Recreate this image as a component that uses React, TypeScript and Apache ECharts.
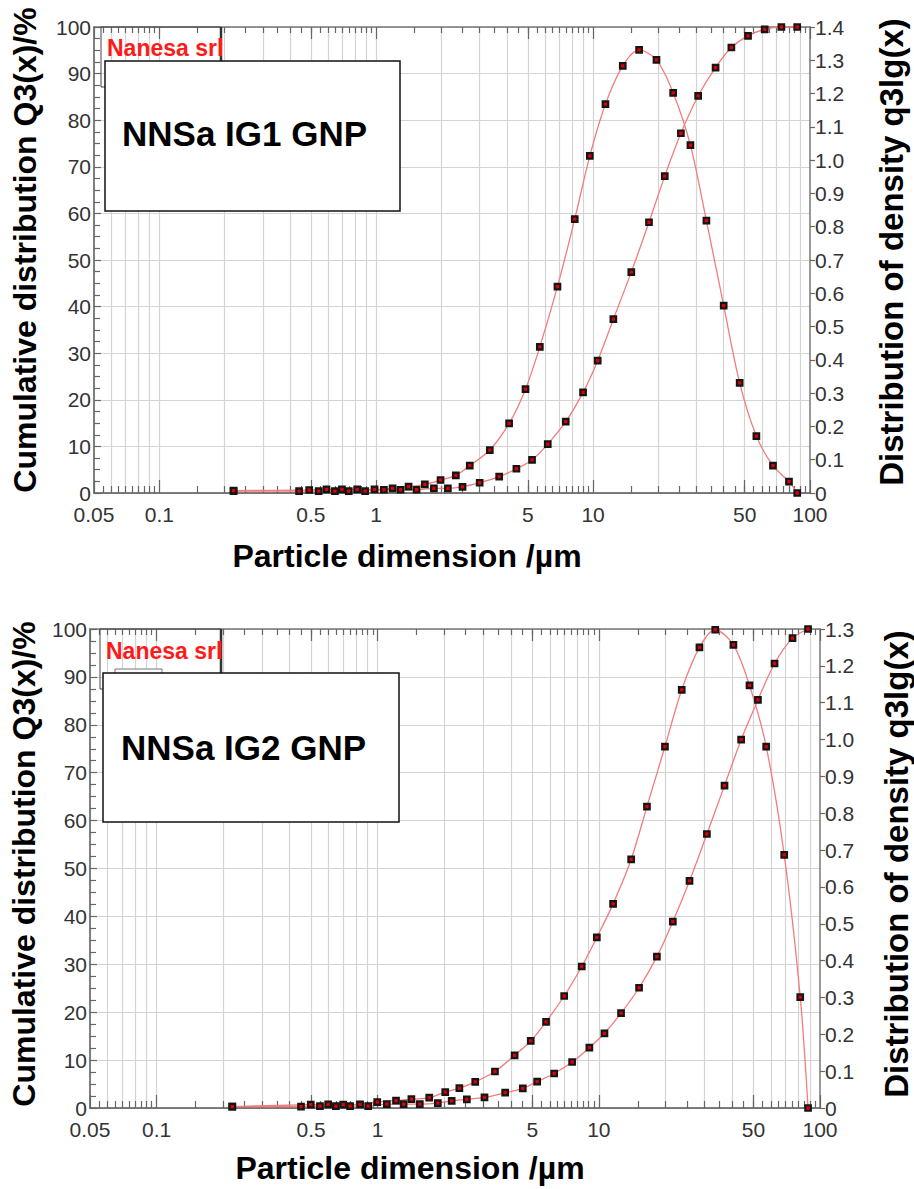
import React, { useEffect, useRef } from "react";
import * as echarts from "echarts";

// ---------- data (particle size in µm) ----------
// Chart 1: NNSa IG1 GNP
const IG1_CUM_X = [0.22, 0.441, 0.543, 0.645, 0.747, 0.889, 1.085, 1.295, 1.535, 1.845, 2.14, 2.5, 3.0, 3.69, 4.43, 5.23, 6.18, 7.48, 8.99, 10.5, 12.4, 15.0, 18.1, 21.4, 25.4, 30.5, 36.7, 43.4, 51.8, 61.8, 73.8, 87.3];
const IG1_CUM_Q3 = [0.4, 0.4, 0.4, 0.4, 0.4, 0.4, 0.7, 0.7, 0.7, 1.0, 1.0, 1.3, 2.2, 3.5, 5.2, 7.1, 10.5, 15.3, 21.6, 28.4, 37.3, 47.4, 58.1, 68.0, 77.2, 85.2, 91.3, 95.6, 98.1, 99.5, 100, 100];
const IG1_DENS_X = [0.22, 0.491, 0.59, 0.695, 0.817, 0.983, 1.19, 1.41, 1.676, 1.98, 2.33, 2.7, 3.34, 4.1, 4.88, 5.68, 6.85, 8.23, 9.66, 11.4, 13.7, 16.3, 19.6, 23.4, 28.1, 33.3, 40.0, 47.4, 56.6, 67.5, 80.0, 87.3];
const IG1_DENS_Q3LG = [0.007, 0.009, 0.011, 0.011, 0.011, 0.011, 0.014, 0.019, 0.026, 0.039, 0.053, 0.082, 0.129, 0.209, 0.312, 0.439, 0.62, 0.823, 1.013, 1.168, 1.283, 1.331, 1.301, 1.202, 1.045, 0.818, 0.563, 0.331, 0.171, 0.082, 0.034, 0.0];

// Chart 2: NNSa IG2 GNP
const IG2_CUM_X = [0.22, 0.45, 0.548, 0.647, 0.75, 0.906, 1.1, 1.31, 1.55, 1.87, 2.16, 2.53, 3.04, 3.77, 4.53, 5.26, 6.28, 7.57, 9.06, 10.6, 12.6, 15.2, 18.3, 21.6, 25.7, 30.8, 37.0, 44.0, 52.4, 62.3, 75.1, 88.3];
const IG2_CUM_Q3 = [0.3, 0.3, 0.4, 0.4, 0.4, 0.4, 0.8, 0.8, 0.8, 1.0, 1.5, 1.8, 2.2, 3.2, 4.1, 5.5, 7.2, 9.6, 12.6, 15.6, 19.8, 25.1, 31.6, 38.9, 47.4, 57.2, 67.3, 76.9, 85.2, 92.8, 98.1, 100];
const IG2_DENS_X = [0.22, 0.498, 0.597, 0.698, 0.832, 0.995, 1.21, 1.42, 1.71, 2.02, 2.34, 2.76, 3.39, 4.16, 4.92, 5.77, 6.97, 8.37, 9.79, 11.6, 14.0, 16.5, 19.9, 23.7, 28.5, 33.6, 40.6, 48.0, 57.1, 68.9, 81.4, 88.3];
const IG2_DENS_Q3LG = [0.004, 0.009, 0.01, 0.009, 0.01, 0.016, 0.02, 0.024, 0.028, 0.043, 0.054, 0.071, 0.099, 0.143, 0.182, 0.234, 0.304, 0.384, 0.463, 0.554, 0.675, 0.818, 0.981, 1.135, 1.25, 1.298, 1.257, 1.147, 0.981, 0.687, 0.301, 0.0];

// ---------- axes ----------
const X_MIN = 0.05;
const X_MAX = 100;
const X_TICK_LABELS = [0.05, 0.1, 0.5, 1, 5, 10, 50, 100];
const DECADES = [0.01, 0.1, 1, 10];
const GRID_MANTISSAS = [1, 2, 3, 4, 5, 6, 7, 8, 9];
const MINOR_MANTISSAS = [1.5, 2, 2.5, 3, 3.5, 4, 4.5, 5, 5.5, 6, 6.5, 7, 7.5, 8, 8.5, 9, 9.5];
const LEFT_MAX = 100;
const LEFT_STEP = 10;
const RIGHT_STEP = 0.1;

const FONT = '"Liberation Sans", Arial, Helvetica, sans-serif';

const lx = (v: number) => Math.log10(v);

const inRange = (v: number) => v > X_MIN * 1.0001 && v < X_MAX * 0.9999;
const GRID_VALUES: number[] = [];
const MINOR_VALUES: number[] = [];
DECADES.forEach((d) => {
  GRID_MANTISSAS.forEach((m) => {
    const v = m * d;
    if (inRange(v)) GRID_VALUES.push(v);
  });
  MINOR_MANTISSAS.forEach((m) => {
    const v = m * d;
    if (inRange(v)) MINOR_VALUES.push(v);
  });
});

const CHARTS = [
  {
    name: "NNSa IG1 GNP",
    cumX: IG1_CUM_X,
    cum: IG1_CUM_Q3,
    densX: IG1_DENS_X,
    dens: IG1_DENS_Q3LG,
    rightMax: 1.4,
    grid: { left: 94, top: 27, width: 716, height: 466 },
    leftTitle: { x: 25, y: 250 },
    rightTitle: { x: 891, y: 252 },
    xTitle: { x: 407, y: 556 },
    legendBox: { x: 101, y: 27, w: 120, h: 60 },
    sampleRect: null as null | { x: number; y: number; w: number; h: number },
    brand: { x: 107, y: 48 },
    box: { x: 105, y: 61, w: 295, h: 150 },
    boxText: { x: 122, y: 133 },
  },
  {
    name: "NNSa IG2 GNP",
    cumX: IG2_CUM_X,
    cum: IG2_CUM_Q3,
    densX: IG2_DENS_X,
    dens: IG2_DENS_Q3LG,
    rightMax: 1.3,
    grid: { left: 90, top: 629, width: 730, height: 479 },
    leftTitle: { x: 24, y: 864 },
    rightTitle: { x: 896, y: 864 },
    xTitle: { x: 410, y: 1168 },
    legendBox: { x: 100, y: 629, w: 121, h: 60 },
    sampleRect: { x: 115, y: 669, w: 47, h: 12 },
    brand: { x: 106, y: 651 },
    box: { x: 103, y: 673, w: 296, h: 149 },
    boxText: { x: 121, y: 747 },
  },
];

const xFmt = (v: number) => String(Number(Math.pow(10, v).toPrecision(2)));
const rFmt = (v: number) => (Math.abs(v) < 1e-9 ? "0" : v.toFixed(1));

function buildOption() {
  const grids: any[] = [];
  const xAxes: any[] = [];
  const yAxes: any[] = [];
  const series: any[] = [];
  const graphics: any[] = [];

  CHARTS.forEach((c, g) => {
    grids.push({ ...c.grid, containLabel: false, show: false });
    const base = {
      type: "value",
      gridIndex: g,
      min: lx(X_MIN),
      max: lx(X_MAX),
      axisLabel: { show: false },
      splitLine: { show: false },
      axisLine: { show: false },
      axisTick: { show: false },
    };
    const axisLineStyle = { color: "#555", width: 1.5 };
    const tickStyle = { color: "#666", width: 1.2 };
    // 0: bottom main axis with labels and long ticks
    xAxes.push({
      ...base,
      position: "bottom",
      axisLine: { show: true, onZero: false, lineStyle: axisLineStyle },
      axisTick: { show: true, inside: true, length: 13, customValues: X_TICK_LABELS.map(lx), lineStyle: tickStyle },
      axisLabel: {
        show: true,
        customValues: X_TICK_LABELS.map(lx),
        formatter: xFmt,
        fontSize: 21,
        color: "#333",
        margin: 11,
        fontFamily: FONT,
      },
    });
    // 1: bottom minor ticks
    xAxes.push({
      ...base,
      position: "bottom",
      axisTick: { show: true, inside: true, length: 7, customValues: MINOR_VALUES.map(lx), lineStyle: tickStyle },
    });
    // 2: vertical grid lines
    xAxes.push({
      ...base,
      position: "bottom",
      axisTick: { show: true, inside: true, length: 0, customValues: GRID_VALUES.map(lx), lineStyle: { opacity: 0 } },
      splitLine: { show: true, lineStyle: { color: "#d4d4d4", width: 1.2 } },
    });
    // 3: top axis line with long ticks
    xAxes.push({
      ...base,
      position: "top",
      axisLine: { show: true, onZero: false, lineStyle: { color: "#777", width: 1.5 } },
      axisTick: { show: true, inside: true, length: 12, customValues: X_TICK_LABELS.map(lx), lineStyle: tickStyle },
    });
    // 4: top minor ticks
    xAxes.push({
      ...base,
      position: "top",
      axisTick: { show: true, inside: true, length: 6, customValues: MINOR_VALUES.map(lx), lineStyle: tickStyle },
    });

    yAxes.push({
      type: "value",
      gridIndex: g,
      position: "left",
      min: 0,
      max: LEFT_MAX,
      interval: LEFT_STEP,
      axisLine: { show: true, onZero: false, lineStyle: axisLineStyle },
      axisTick: { show: true, inside: true, length: 7, lineStyle: tickStyle },
      minorTick: { show: true, splitNumber: 4, length: 6, lineStyle: tickStyle },
      splitLine: { show: true, lineStyle: { color: "#d4d4d4", width: 1.2 } },
      axisLabel: { fontSize: 21, color: "#333", margin: 3, fontFamily: FONT },
    });
    yAxes.push({
      type: "value",
      gridIndex: g,
      position: "right",
      min: 0,
      max: c.rightMax,
      interval: RIGHT_STEP,
      axisLine: { show: true, onZero: false, lineStyle: { color: "#777", width: 1.5 } },
      axisTick: { show: true, inside: false, length: 5, lineStyle: tickStyle },
      splitLine: { show: false },
      axisLabel: { fontSize: 21, color: "#333", margin: 5, fontFamily: FONT, formatter: rFmt },
    });

    const common = {
      type: "line",
      xAxisIndex: g * 5,
      smooth: 0.3,
      symbol: "rect",
      symbolSize: 5.5,
      showSymbol: true,
      lineStyle: { color: "#f37c7c", width: 1.3 },
      itemStyle: { color: "#e00000", borderColor: "#151515", borderWidth: 2.2 },
      z: 4,
    };
    series.push({
      ...common,
      name: c.name + " Q3",
      yAxisIndex: g * 2,
      data: c.cumX.map((x, i) => [lx(x), c.cum[i]]),
    });
    series.push({
      ...common,
      name: c.name + " q3lg",
      yAxisIndex: g * 2 + 1,
      data: c.densX.map((x, i) => [lx(x), c.dens[i]]),
    });

    const titleFont = `bold 32px ${FONT}`;
    graphics.push({
      type: "text",
      x: c.leftTitle.x,
      y: c.leftTitle.y,
      rotation: Math.PI / 2,
      style: {
        text: "Cumulative distribution Q3(x)/%",
        font: titleFont,
        fill: "#000",
        align: "center",
        verticalAlign: "middle",
        textAlign: "center",
        textVerticalAlign: "middle",
      },
    });
    graphics.push({
      type: "text",
      x: c.rightTitle.x,
      y: c.rightTitle.y,
      rotation: Math.PI / 2,
      style: {
        text: "Distribution of density q3lg(x)",
        font: `bold 33px ${FONT}`,
        fill: "#000",
        align: "center",
        verticalAlign: "middle",
        textAlign: "center",
        textVerticalAlign: "middle",
      },
    });
    graphics.push({
      type: "text",
      x: c.xTitle.x,
      y: c.xTitle.y,
      style: {
        text: "Particle dimension /µm",
        font: titleFont,
        fill: "#000",
        align: "center",
        verticalAlign: "middle",
        textAlign: "center",
        textVerticalAlign: "middle",
      },
    });
    // legend box (partially hidden)
    graphics.push({
      type: "rect",
      z: 20,
      shape: { x: c.legendBox.x, y: c.legendBox.y, width: c.legendBox.w, height: c.legendBox.h },
      style: { fill: "rgba(0,0,0,0)", stroke: "#444", lineWidth: 1 },
    });
    graphics.push({
      type: "line",
      z: 20,
      shape: {
        x1: c.legendBox.x + c.legendBox.w,
        y1: c.legendBox.y,
        x2: c.legendBox.x + c.legendBox.w,
        y2: c.legendBox.y + c.legendBox.h,
      },
      style: { stroke: "#333", lineWidth: 2.5 },
    });
    if (c.sampleRect) {
      graphics.push({
        type: "rect",
        z: 20,
        shape: { x: c.sampleRect.x, y: c.sampleRect.y, width: c.sampleRect.w, height: c.sampleRect.h },
        style: { fill: "#fff", stroke: "#777", lineWidth: 1 },
      });
    }
    graphics.push({
      type: "text",
      z: 21,
      x: c.brand.x,
      y: c.brand.y,
      style: {
        text: "Nanesa srl",
        font: `bold 23px ${FONT}`,
        fill: "#ff1a1a",
        align: "left",
        verticalAlign: "middle",
        textAlign: "left",
        textVerticalAlign: "middle",
      },
    });
    graphics.push({
      type: "rect",
      z: 30,
      shape: { x: c.box.x, y: c.box.y, width: c.box.w, height: c.box.h },
      style: { fill: "#fff", stroke: "#111", lineWidth: 1.5 },
    });
    graphics.push({
      type: "text",
      z: 31,
      x: c.boxText.x,
      y: c.boxText.y,
      style: {
        text: c.name,
        font: `bold 35px ${FONT}`,
        fill: "#000",
        align: "left",
        verticalAlign: "middle",
        textAlign: "left",
        textVerticalAlign: "middle",
      },
    });
  });

  return {
    animation: false,
    backgroundColor: "#fff",
    textStyle: { fontFamily: FONT },
    grid: grids,
    xAxis: xAxes,
    yAxis: yAxes,
    series,
    graphic: { elements: graphics },
  };
}

export default function App() {
  const ref = useRef<HTMLDivElement>(null);
  useEffect(() => {
    if (!ref.current) return;
    const chart = echarts.init(ref.current, undefined, { renderer: "svg" });
    chart.setOption(buildOption() as any);
    return () => chart.dispose();
  }, []);
  return (
    <div
      ref={ref}
      style={{ position: "absolute", left: 0, top: 0, width: 914, height: 1189, background: "#fff" }}
    />
  );
}
